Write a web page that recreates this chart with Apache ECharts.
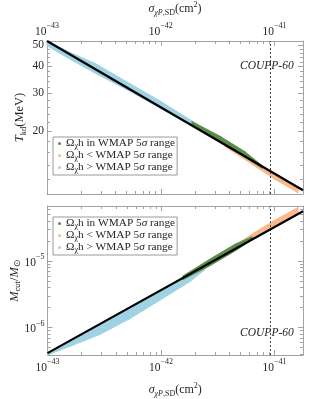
<!DOCTYPE html>
<html><head><meta charset="utf-8">
<script src="https://cdn.jsdelivr.net/npm/echarts@6/dist/echarts.min.js"></script>
<style>html,body{margin:0;padding:0;background:#fff}#c{width:312px;height:399px}</style>
</head><body><div id="c"></div>
<script>
// ---------- data ----------
const xRange = [1e-43, 1.78e-41];
const tRange = [10.26, 52.4];
const mRange = [3.85e-7, 6.74e-5];
const xTickLabels = [1e-43, 1e-42, 1e-41];
const tTickLabels = [20, 30, 40, 50];
const tMinorTicks = [12, 14, 16, 18, 22, 24, 26, 28, 32, 34, 36, 38, 42, 44, 46, 48, 52];
const mTickLabels = [1e-6, 1e-5];
const couppX = 9.1e-42;
const couppLabelT = 40;
const couppLabelM = 8.2e-7;

const lineSigma = [1e-43, 1.78e-41];
const lineT = [52.4, 10.68];
const lineM = [4.11e-7, 5.62e-5];

const seriesNames = ['in', 'lt', 'gt'];

// top panel clouds (sigma, lower T, upper T)
const blueTopSigma = [1e-43, 1.58e-43, 2.73e-43, 5.33e-43, 9.8e-43, 1.80e-42, 2.81e-42];
const blueTopLo = [49.8, 43.3, 36.9, 30.7, 25.7, 21.6, 19.0];
const blueTopHi = [52.4, 46.5, 40.9, 33.3, 27.7, 22.7, 19.6];
const greenTopSigma = [1.88e-42, 3.31e-42, 5.50e-42, 7.76e-42];
const greenTopLo = [21.5, 17.9, 15.2, 13.5];
const greenTopHi = [22.2, 19.0, 16.1, 13.9];
const orangeTopSigma = [3.66e-42, 6.08e-42, 1.01e-41, 1.61e-41];
const orangeTopLo = [17.0, 14.3, 12.0, 10.4];
const orangeTopHi = [17.3, 14.9, 12.7, 10.9];

// bottom panel clouds (sigma, lower M, upper M)
const blueBotSigma = [1e-43, 1.58e-43, 2.90e-43, 5.33e-43, 9.8e-43, 1.80e-42, 2.44e-42];
const blueBotLo = [3.85e-7, 5.21e-7, 7.86e-7, 1.36e-6, 2.58e-6, 4.91e-6, 7.46e-6];
const blueBotHi = [4.11e-7, 6.35e-7, 1.13e-6, 2.01e-6, 3.58e-6, 6.40e-6, 8.24e-6];
const greenBotSigma = [1.56e-42, 2.70e-42, 4.49e-42, 6.34e-42];
const greenBotLo = [5.23e-6, 8.51e-6, 1.42e-5, 2.10e-5];
const greenBotHi = [5.97e-6, 1.07e-5, 1.79e-5, 2.32e-5];
const orangeBotSigma = [2.87e-42, 4.49e-42, 6.73e-42, 1.01e-41, 1.61e-41];
const orangeBotLo = [9.62e-6, 1.52e-5, 2.23e-5, 3.39e-5, 5.45e-5];
const orangeBotHi = [1.06e-5, 1.73e-5, 2.72e-5, 4.13e-5, 6.41e-5];

// ---------- styles ----------
const L = Math.log10;
const FONT = 'Liberation Serif';
const FRAME = '#a3a3a3';
const TXT = '#262626';
const C_GREEN = '#5b8c4a', C_ORANGE = '#f8b98c', C_BLUE = '#9fd3e4';

const richBase = {
  n: {fontFamily: FONT, fontSize: 12.5, lineHeight: 16, color: TXT},
  i: {fontFamily: FONT, fontSize: 12.5, lineHeight: 16, color: TXT, fontStyle: 'italic'},
  sub: {fontFamily: FONT, fontSize: 8.5, lineHeight: 8, color: TXT, verticalAlign: 'bottom'},
  subi: {fontFamily: FONT, fontSize: 8, lineHeight: 8, color: TXT, verticalAlign: 'bottom', fontStyle: 'italic'},
  subs: {fontFamily: FONT, fontSize: 8, lineHeight: 8, color: TXT, verticalAlign: 'bottom'},
  sup: {fontFamily: FONT, fontSize: 8, lineHeight: 8, color: TXT, verticalAlign: 'top'},
  xn: {fontFamily: FONT, fontSize: 12, lineHeight: 16, color: TXT},
  xi: {fontFamily: FONT, fontSize: 12, lineHeight: 16, color: TXT, fontStyle: 'italic'},
  b: {fontFamily: FONT, fontSize: 11.5, lineHeight: 16, color: TXT, verticalAlign: 'bottom'},
  s: {fontFamily: FONT, fontSize: 8, lineHeight: 8, color: TXT, verticalAlign: 'top'}
};

function powLabel(v) {
  const e = Math.round(v);
  return '{b|10}{s|' + (e < 0 ? '\u2212' : '') + Math.abs(e) + '}';
}
function decMinors(range) {
  const out = [];
  for (let n = Math.floor(L(range[0])); n <= Math.ceil(L(range[1])); n++) {
    for (let k = 2; k <= 9; k++) {
      const v = k * Math.pow(10, n);
      if (v > range[0] && v < range[1]) out.push(L(v));
    }
  }
  return out;
}

function axisPair(grid, pos, range, majors, minors, labelOpt, nameOpt) {
  const base = {
    type: 'value', gridIndex: grid, position: pos,
    min: L(range[0]), max: L(range[1]),
    splitLine: {show: false}, minorTick: {show: false}
  };
  const major = Object.assign({}, base, {
    axisLine: {show: true, onZero: false, lineStyle: {color: FRAME, width: 1}},
    axisTick: {show: true, inside: true, length: 5, customValues: majors, lineStyle: {color: FRAME}},
    axisLabel: labelOpt ? Object.assign({show: true, customValues: majors, color: TXT, fontFamily: FONT, fontSize: 11.5, rich: richBase}, labelOpt) : {show: false}
  }, nameOpt || {});
  const minor = Object.assign({}, base, {
    axisLine: {show: false, onZero: false},
    axisTick: {show: true, inside: true, length: 3, customValues: minors, lineStyle: {color: FRAME}},
    axisLabel: {show: false}
  });
  return [major, minor];
}

const xMaj = xTickLabels.map(L), xMin = decMinors(xRange);
const tMaj = tTickLabels.map(L), tMin = tMinorTicks.map(L);
const mMaj = mTickLabels.map(L), mMin = decMinors(mRange);

const xName = '{xi|\u03c3}{subi|\u03c7P}{subs|,SD}{xn|(cm}{sup|2}{xn|)}';
const nameStyle = {fontFamily: FONT, fontSize: 12, color: TXT, rich: richBase};

// grid 0 x axes: [bottomMajor, topMajor, bottomMinor, topMinor]
const g0xb = axisPair(0, 'bottom', xRange, xMaj, xMin, null);
const g0xt = axisPair(0, 'top', xRange, xMaj, xMin, {formatter: powLabel, margin: 3},
  {name: xName, nameLocation: 'middle', nameGap: 24, nameTextStyle: nameStyle});
const g1xb = axisPair(1, 'bottom', xRange, xMaj, xMin, {formatter: powLabel, margin: 3},
  {name: xName, nameLocation: 'middle', nameGap: 27, nameTextStyle: nameStyle});
const g1xt = axisPair(1, 'top', xRange, xMaj, xMin, null);
const xAxes = [g0xb[0], g0xt[0], g0xb[1], g0xt[1], g1xb[0], g1xt[0], g1xb[1], g1xt[1]];

const g0yl = axisPair(0, 'left', tRange, tMaj, tMin, {formatter: v => String(Math.round(Math.pow(10, v))), margin: 3},
  {name: '{i|T}{sub|kd}{n|(MeV)}', nameLocation: 'middle', nameGap: 19, nameMoveOverlap: false, nameRotate: 90, nameTextStyle: nameStyle});
const g0yr = axisPair(0, 'right', tRange, tMaj, tMin, null);
const g1yl = axisPair(1, 'left', mRange, mMaj, mMin, {formatter: powLabel, margin: 3},
  {name: '{i|M}{sub|cut}{n|/}{i|M}{sub|\u2299}', nameLocation: 'middle', nameGap: 25, nameMoveOverlap: false, nameRotate: 90, nameTextStyle: nameStyle});
const g1yr = axisPair(1, 'right', mRange, mMaj, mMin, null);
const yAxes = [g0yl[0], g0yr[0], g0yl[1], g0yr[1], g1yl[0], g1yr[0], g1yl[1], g1yr[1]];

function band(name, color, sig, lo, hi, ax) {
  const data = sig.map((s, i) => [L(s), L(lo[i]), L(hi[i])]);
  return {
    type: 'custom', name: name, xAxisIndex: ax, yAxisIndex: ax, z: 2,
    itemStyle: {color: color}, data: data, encode: {x: 0, y: [1, 2]}, silent: true,
    renderItem: function (params, api) {
      const i = params.dataIndex;
      if (i >= data.length - 1) return null;
      const a = data[i], b = data[i + 1];
      const pts = [api.coord([a[0], a[1]]), api.coord([a[0], a[2]]), api.coord([b[0], b[2]]), api.coord([b[0], b[1]])];
      return {type: 'polygon', shape: {points: pts}, style: {fill: color, stroke: color, lineWidth: 1}};
    }
  };
}

function fitLine(vals, ax, labelY) {
  return {
    type: 'line', xAxisIndex: ax, yAxisIndex: ax, z: 5, silent: true,
    data: lineSigma.map((s, i) => [L(s), L(vals[i])]),
    symbol: 'none', lineStyle: {color: '#000', width: 2.2},
    markLine: {
      silent: true, symbol: 'none', animation: false,
      lineStyle: {color: '#444', width: 1, type: [2, 2]},
      label: {show: false},
      data: [{xAxis: L(couppX)}]
    },
    markPoint: {
      silent: true, symbol: 'circle', symbolSize: 0, animation: false,
      label: {show: true, position: 'inside', offset: [-3, 0], formatter: 'COUPP-60',
        fontFamily: FONT, fontStyle: 'italic', fontSize: 11.5, color: TXT},
      data: [{coord: [L(couppX), L(labelY)]}]
    }
  };
}

const legendNames = {
  'in': '{n|\u03a9}{sub|\u03c7}{n|h in WMAP 5}{i|\u03c3}{n| range}',
  'lt': '{n|\u03a9}{sub|\u03c7}{n|h < WMAP 5}{i|\u03c3}{n| range}',
  'gt': '{n|\u03a9}{sub|\u03c7}{n|h > WMAP 5}{i|\u03c3}{n| range}'
};
const legendRich = {
  n: {fontFamily: FONT, fontSize: 11.3, lineHeight: 13, color: TXT},
  i: {fontFamily: FONT, fontSize: 11.3, lineHeight: 13, color: TXT, fontStyle: 'italic'},
  sub: {fontFamily: FONT, fontSize: 8, lineHeight: 7, color: TXT, verticalAlign: 'bottom'}
};
function mkLegend(top) {
  return {
    left: 53, top: top, orient: 'vertical', data: seriesNames,
    icon: 'circle', itemWidth: 3, itemHeight: 3, itemGap: 0,
    padding: [1, 2, 1, 5], borderColor: '#9a9a9a', borderWidth: 1, backgroundColor: '#fff',
    selectedMode: false,
    formatter: n => legendNames[n],
    textStyle: {fontFamily: FONT, fontSize: 11.3, color: TXT, rich: legendRich}
  };
}

const option = {
  animation: false,
  backgroundColor: '#fff',
  grid: [
    {left: 47, right: 9, top: 34, height: 160},
    {left: 47, right: 9, top: 206, height: 157}
  ],
  xAxis: xAxes,
  yAxis: yAxes,
  legend: [mkLegend(137), mkLegend(217)],
  series: [
    band('gt', C_BLUE, blueTopSigma, blueTopLo, blueTopHi, 0),
    band('lt', C_ORANGE, orangeTopSigma, orangeTopLo, orangeTopHi, 0),
    band('in', C_GREEN, greenTopSigma, greenTopLo, greenTopHi, 0),
    fitLine(lineT, 0, couppLabelT),
    band('gt', C_BLUE, blueBotSigma, blueBotLo, blueBotHi, 4),
    band('lt', C_ORANGE, orangeBotSigma, orangeBotLo, orangeBotHi, 4),
    band('in', C_GREEN, greenBotSigma, greenBotLo, greenBotHi, 4),
    fitLine(lineM, 4, couppLabelM)
  ]
};
const chart = echarts.init(document.getElementById('c'), null, {renderer: 'canvas'});
chart.setOption(option);
</script></body></html>
